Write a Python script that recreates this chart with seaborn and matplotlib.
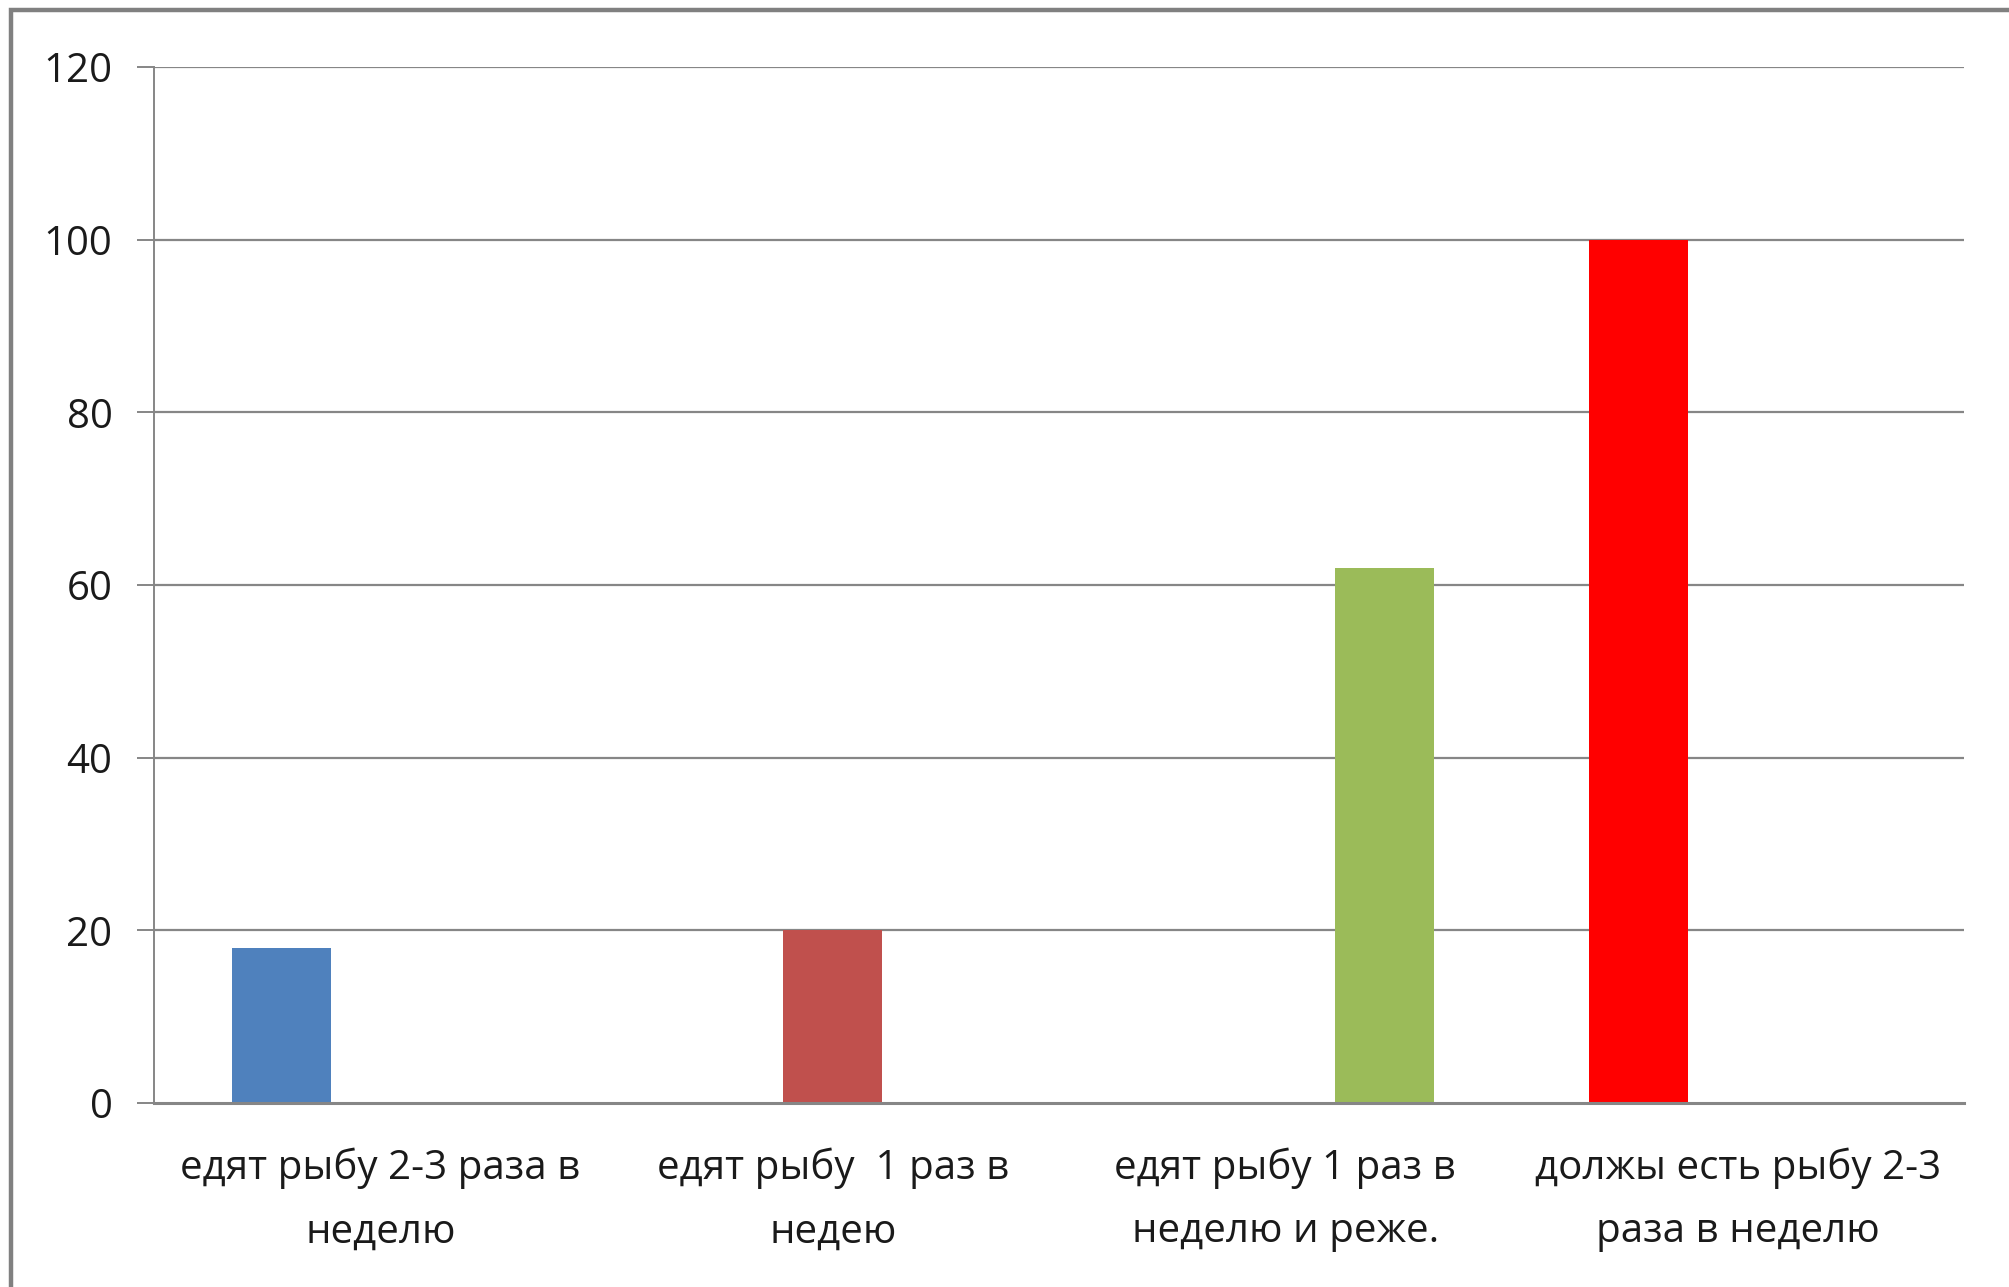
import matplotlib
matplotlib.use("Agg")
import matplotlib.pyplot as plt
from matplotlib.patches import Rectangle
import pandas as pd
import seaborn as sns

# Survey categories (x-axis labels)
categories = [
    "едят рыбу 2-3 раза в\nнеделю",
    "едят рыбу  1 раз в\nнедею",
    "едят рыбу 1 раз в\nнеделю и реже.",
    "должы есть рыбу 2-3\nраза в неделю",
]
series_names = ["Ряд 1", "Ряд 2", "Ряд 3"]
series1 = [18, 0, 0, 100]
series2 = [0, 20, 0, 0]
series3 = [0, 0, 62, 0]
y_ticks = [0, 20, 40, 60, 80, 100, 120]

series_colors = ["#4F81BD", "#C0504D", "#9BBB59"]
highlight_color = "#FF0000"  # the recommended-intake bar

rows = []
for name, vals in zip(series_names, [series1, series2, series3]):
    for cat, v in zip(categories, vals):
        rows.append({"category": cat, "series": name, "value": v})
df = pd.DataFrame(rows)

sns.set_theme(style="white")
plt.rcParams["font.family"] = ["Open Sans", "DejaVu Sans"]

fig = plt.figure(figsize=(20.09, 12.87), dpi=100)
ax = fig.add_axes([0.0767, 0.143, 0.9009, 0.805])

sns.barplot(data=df, x="category", y="value", hue="series",
            order=categories, hue_order=series_names,
            palette=series_colors, width=0.657, dodge=True,
            linewidth=0, saturation=1, errorbar=None, legend=False, ax=ax)

# the last category's bar is shown in bright red
ax.containers[0].patches[3].set_facecolor(highlight_color)

grid_c = "#868686"
ax.set_ylim(0, 120)
ax.set_xlim(-0.5, len(categories) - 0.5)
ax.set_yticks(y_ticks)
ax.set_yticklabels([str(t) for t in y_ticks], fontsize=29, color="#1a1a1a")
for t in y_ticks[1:]:
    ax.axhline(t, color=grid_c, lw=1.6, zorder=0)
ax.set_axisbelow(True)

ax.set_xticks(range(len(categories)))
ax.set_xticklabels(categories, fontsize=29, color="#1a1a1a", linespacing=1.75)
ax.set_xticks([i - 0.5 for i in range(len(categories) + 1)], minor=True)
ax.tick_params(axis="x", which="major", length=0, pad=32)
ax.tick_params(axis="x", which="minor", length=12, width=1.4, color=grid_c, direction="out")
ax.tick_params(axis="y", which="major", length=12, width=1.4, color=grid_c, direction="out", pad=18, left=True)

ax.set_xlabel("")
ax.set_ylabel("")
for side in ["top", "right"]:
    ax.spines[side].set_visible(False)
ax.spines["left"].set_color(grid_c)
ax.spines["left"].set_linewidth(1.4)
ax.spines["bottom"].set_color(grid_c)
ax.spines["bottom"].set_linewidth(2.2)

# outer frame of the slide chart (open to the right and bottom)
fig.patches.append(Rectangle((0.0055, -0.05), 1.2, 1.0422, transform=fig.transFigure,
                             fill=False, edgecolor="#808080", lw=3.2, zorder=10))

fig.savefig("out.png", dpi=100, facecolor="white")
